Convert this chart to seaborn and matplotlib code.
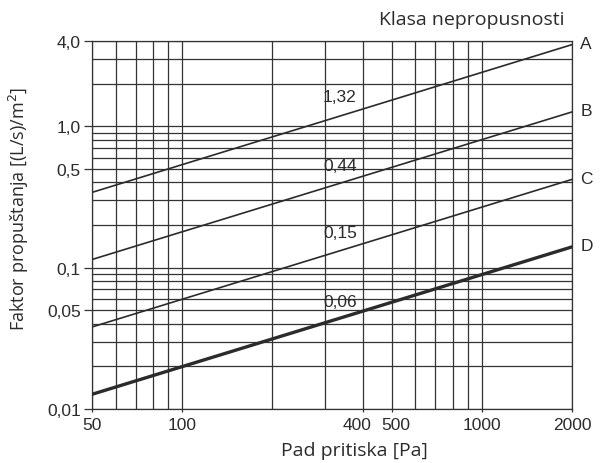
import numpy as np
import pandas as pd
import seaborn as sns
import matplotlib
matplotlib.use("Agg")
import matplotlib.pyplot as plt
import matplotlib.transforms as mtransforms
from matplotlib.ticker import FixedLocator, LogLocator, NullFormatter

# data (line end points at 50 Pa and 2000 Pa)
pressure = [50, 2000]
classes = ["A", "B", "C", "D"]
leakage_A = [0.34, 3.77]
leakage_B = [0.114, 1.26]
leakage_C = [0.038, 0.42]
leakage_D = [0.0127, 0.14]
value_labels = ["1,32", "0,44", "0,15", "0,06"]

x_ticks = [50, 100, 400, 500, 1000, 2000]
x_ticklabels = ["50", "100", "400", "500", "1000", "2000"]
y_ticks = [0.01, 0.05, 0.1, 0.5, 1.0, 4.0]
y_ticklabels = ["0,01", "0,05", "0,1", "0,5", "1,0", "4,0"]

rows = []
for cls, vals in zip(classes, [leakage_A, leakage_B, leakage_C, leakage_D]):
    for p, v in zip(pressure, vals):
        rows.append({"p": p, "f": v, "klasa": cls})
df = pd.DataFrame(rows)

sns.set_theme(style="white")
plt.rcParams["font.family"] = ["Liberation Sans", "DejaVu Sans"]

ink = "#2b2b2b"
grid_c = "#333333"

fig = plt.figure(figsize=(6.06, 4.64), dpi=100)
ax = fig.add_axes([0.1518, 0.1164, 0.792, 0.7931])

widths = {"A": 1.2, "B": 1.2, "C": 1.2, "D": 2.4}
for cls in classes:
    sub = df[df["klasa"] == cls]
    sns.lineplot(data=sub, x="p", y="f", ax=ax, color=ink,
                 linewidth=widths[cls], legend=False, zorder=3)
    ax.annotate(cls, xy=(sub["p"].iloc[-1], sub["f"].iloc[-1]),
                xytext=(6, 1), textcoords="offset points",
                ha="left", va="center", fontsize=12.5, color=ink,
                annotation_clip=False)

ax.set_xscale("log")
ax.set_yscale("log")
ax.set_xlim(50, 2000)
ax.set_ylim(0.01, 4.0)

# value labels near 400 Pa
label_pos_x = 336
label_pos_y = [1.61, 0.53, 0.177, 0.058]
for txt, ypos in zip(value_labels, label_pos_y):
    ax.text(label_pos_x, ypos, txt, ha="center", va="center",
            fontsize=12.5, color=ink, zorder=4)

ax.xaxis.set_major_locator(FixedLocator(x_ticks))
ax.xaxis.set_ticklabels(x_ticklabels)
ax.yaxis.set_major_locator(FixedLocator(y_ticks))
ax.yaxis.set_ticklabels(y_ticklabels)
ax.xaxis.set_minor_locator(LogLocator(base=10, subs=np.arange(1, 10), numticks=50))
ax.yaxis.set_minor_locator(LogLocator(base=10, subs=np.arange(1, 10), numticks=50))
ax.xaxis.set_minor_formatter(NullFormatter())
ax.yaxis.set_minor_formatter(NullFormatter())

ax.grid(True, which="both", color=grid_c, linewidth=0.9)
ax.tick_params(axis="y", which="major", length=6, width=0.9, color=grid_c,
               labelsize=12.5, labelcolor=ink, pad=2, left=True)
ax.tick_params(axis="x", which="major", length=2, width=0.9, color=grid_c,
               labelsize=12.5, labelcolor=ink, pad=4, bottom=True)
ax.tick_params(which="minor", length=0)
for s in ax.spines.values():
    s.set_color(grid_c)
    s.set_linewidth(0.9)

# nudge the crowded 400 / 500 labels apart
for lab, val in zip(ax.get_xticklabels(), x_ticks):
    if val == 400:
        lab.set_transform(lab.get_transform() + mtransforms.ScaledTranslation(-5 / 100, 0, fig.dpi_scale_trans))
    elif val == 500:
        lab.set_transform(lab.get_transform() + mtransforms.ScaledTranslation(4 / 100, 0, fig.dpi_scale_trans))

lab_font = ["Open Sans", "DejaVu Sans"]
ax.set_xlabel("Pad pritiska [Pa]", fontsize=14, color=ink, family=lab_font)
ax.set_ylabel("Faktor propuštanja [(L/s)/m$^2$]", fontsize=13, color=ink,
              family=lab_font)
ax.xaxis.set_label_coords(0.546, -0.086)
ax.yaxis.set_label_coords(-0.128, 0.546)

fig.text(0.932, 1 - 25 / 464, "Klasa nepropusnosti", ha="right", va="baseline",
         fontsize=14, color=ink, family=lab_font)

fig.savefig("out.png", dpi=100, facecolor="white")
